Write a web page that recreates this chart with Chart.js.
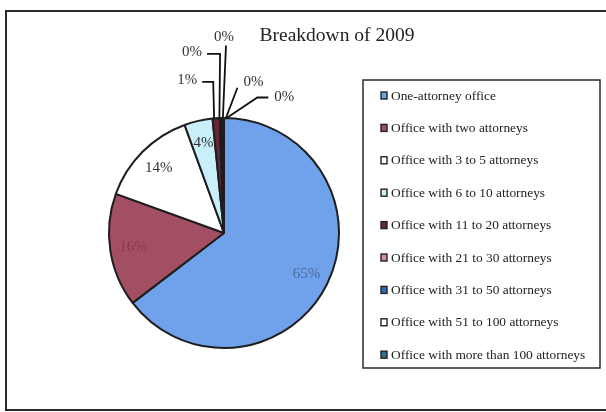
<!DOCTYPE html>
<html>
<head>
<meta charset="utf-8">
<script src="https://cdn.jsdelivr.net/npm/chart.js@4/dist/chart.umd.min.js"></script>
<style>
  html, body { margin: 0; padding: 0; background: #ffffff; }
  #wrap { width: 606px; height: 412px; position: relative; }
</style>
</head>
<body>
<div id="wrap"><canvas id="c" width="606" height="412"></canvas></div>
<script>
// Office size categories
const categories = [
  'One-attorney office',
  'Office with two attorneys',
  'Office with 3 to 5 attorneys',
  'Office with 6 to 10 attorneys',
  'Office with 11 to 20 attorneys',
  'Office with 21 to 30 attorneys',
  'Office with 31 to 50 attorneys',
  'Office with 51 to 100 attorneys',
  'Office with more than 100 attorneys'
];
// Share of offices in 2009 (percent)
const shares2009 = [65, 16, 14, 4, 1, 0.2, 0.2, 0.1, 0.1];
const chartTitle = 'Breakdown of 2009';

const sliceColors = ['#6fa2ea', '#a34f63', '#ffffff', '#c9effb', '#6a2636', '#d98b99', '#2c6fb6', '#ffffff', '#2f6f94'];
const insideTextColors = ['#4d6c9c', '#8a3a4e', '#333333', '#333333'];
const SERIF = '"Liberation Serif", "DejaVu Serif", serif';

// Label placement for the thin slices: angle (deg from top, clockwise) and distance in radii
const outerLabelPlacement = [
  null, null, null, null,
  { ang: -13.5, dist: 1.37, side: 'left' },
  { ang: -10, dist: 1.60, side: 'left' },
  { ang: 0, dist: 1.70, side: 'top' },
  { ang: 11, dist: 1.34, side: 'right' },
  { ang: 24, dist: 1.29, side: 'right' }
];

const total = shares2009.reduce((a, b) => a + b, 0);
const pct = v => Math.round(v / total * 100) + '%';

// Outer frame, title and legend box
const framePlugin = {
  id: 'frame',
  beforeDraw(chart) {
    const ctx = chart.ctx;
    ctx.save();
    ctx.fillStyle = '#ffffff';
    ctx.fillRect(0, 0, chart.width, chart.height);
    ctx.strokeStyle = '#2a2a2a';
    ctx.lineWidth = 2;
    ctx.strokeRect(6, 11, 640, 399);
    ctx.restore();
  },
  afterDraw(chart) {
    const ctx = chart.ctx;
    ctx.save();
    // title
    ctx.fillStyle = '#222';
    ctx.font = '19.5px ' + SERIF;
    ctx.textAlign = 'center';
    ctx.textBaseline = 'middle';
    ctx.fillText(chartTitle, 337, 36);

    // legend
    const lx = 363, ly = 80, lw = 237, lh = 288;
    ctx.strokeStyle = '#2a2a2a';
    ctx.lineWidth = 1.5;
    ctx.strokeRect(lx, ly, lw, lh);
    const ds = chart.data.datasets[0];
    ctx.font = '13.4px ' + SERIF;
    ctx.textAlign = 'left';
    chart.data.labels.forEach((lab, i) => {
      const y = 96 + i * 32.4;
      ctx.fillStyle = ds.backgroundColor[i];
      ctx.fillRect(381, y - 4, 6, 7);
      ctx.strokeStyle = '#222';
      ctx.lineWidth = 1.4;
      ctx.strokeRect(381, y - 4, 6, 7);
      ctx.fillStyle = '#222';
      ctx.fillText(lab, 391, y);
    });
    ctx.restore();
  }
};

// Percentage labels inside slices and with leader lines for thin slices
const labelPlugin = {
  id: 'sliceLabels',
  afterDatasetsDraw(chart) {
    const ctx = chart.ctx;
    const meta = chart.getDatasetMeta(0);
    const ds = chart.data.datasets[0];
    ctx.save();
    ctx.font = '15px ' + SERIF;
    ctx.textBaseline = 'middle';
    meta.data.forEach((arc, i) => {
      const { x, y, startAngle, endAngle, outerRadius } = arc.getProps(['x', 'y', 'startAngle', 'endAngle', 'outerRadius'], true);
      const mid = (startAngle + endAngle) / 2;
      const text = pct(ds.data[i]);
      const place = outerLabelPlacement[i];
      if (!place) {
        const r = outerRadius * 0.8;
        ctx.fillStyle = insideTextColors[i];
        ctx.textAlign = 'center';
        ctx.fillText(text, x + Math.cos(mid) * r, y + Math.sin(mid) * r);
        return;
      }
      const a = (place.ang - 90) * Math.PI / 180;
      const tx = x + Math.cos(a) * outerRadius * place.dist;
      const ty = y + Math.sin(a) * outerRadius * place.dist;
      const ax = x + Math.cos(mid) * outerRadius;
      const ay = y + Math.sin(mid) * outerRadius;
      ctx.strokeStyle = '#111';
      ctx.lineWidth = 1.8;
      ctx.beginPath();
      if (place.side === 'left') {
        ctx.moveTo(tx + 15, ty + 2);
        ctx.lineTo(tx + 26 + (place.dist > 1.5 ? 2 : 0), ty + 2);
        ctx.lineTo(ax - 2 + (place.dist > 1.5 ? 1 : 0), ay);
      } else if (place.side === 'top') {
        ctx.moveTo(tx + 2, ty + 8);
        ctx.lineTo(ax + 1, ay);
      } else {
        if (place.dist < 1.3) {
          ctx.moveTo(tx - 16, ty);
          ctx.lineTo(tx - 27, ty);
          ctx.lineTo(ax + 3, ay);
        } else {
          ctx.moveTo(tx - 16, ty + 6);
          ctx.lineTo(ax + 3, ay);
        }
      }
      ctx.stroke();
      ctx.fillStyle = '#333';
      ctx.textAlign = 'center';
      ctx.fillText(text, tx, ty);
    });
    ctx.restore();
  }
};

new Chart(document.getElementById('c'), {
  type: 'pie',
  data: {
    labels: categories,
    datasets: [{
      data: shares2009,
      backgroundColor: sliceColors,
      borderColor: '#1e1e1e',
      borderWidth: 2,
      radius: 115
    }]
  },
  options: {
    responsive: false,
    animation: false,
    layout: { padding: { left: 109, right: 267, top: 118, bottom: 64 } },
    plugins: {
      legend: { display: false },
      tooltip: { enabled: false },
      title: { display: false }
    }
  },
  plugins: [framePlugin, labelPlugin]
});
</script>
</body>
</html>
